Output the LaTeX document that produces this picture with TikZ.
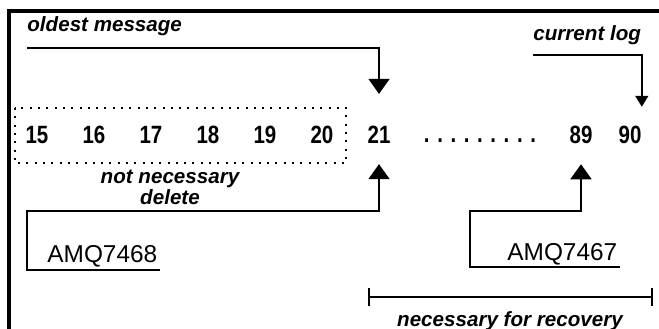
\documentclass[tikz,border=0pt]{standalone}
\usepackage{fontspec}
\setmainfont{Liberation Sans}
\newfontfamily\numfont[FakeStretch=0.82]{Liberation Sans}
\usetikzlibrary{arrows.meta,positioning}

\begin{document}
\begin{tikzpicture}[x=0.5pt, y=-0.5pt, node distance=28.5pt,
  num/.style={inner sep=0pt, font=\numfont\bfseries\fontsize{12.5}{14}\selectfont},
  note/.style={inner sep=0pt, font=\bfseries\itshape\fontsize{10.3}{10.5}\selectfont, align=center},
  code/.style={inner sep=0pt, anchor=base west, font=\fontsize{12.2}{14}\selectfont},
  wire/.style={line width=0.8pt},
  bigtip/.style={wire, -{Triangle[width=10.5pt, length=7.5pt]}},
  smalltip/.style={wire, -{Triangle[width=6.5pt, length=5.5pt]}}]
\useasboundingbox (0,0) rectangle (659,328);

% frame
\draw[line width=1.6pt] (9,340) -- (9,11) -- (670,11);

% log numbers
\node[num] (n15) at (37,135) {15};
\node[num, right of=n15] (n16) {16};
\node[num, right of=n16] (n17) {17};
\node[num, right of=n17] (n18) {18};
\node[num, right of=n18] (n19) {19};
\node[num, right of=n19] (n20) {20};
\node[num, right of=n20] (n21) {21};
\node[num, anchor=base] (gap) at (480,142) {. . . . . . . . .};
\node[num] (n89) at (581,135) {89};
\node[num] (n90) at (630,135) {90};

% old logs
\draw[line width=1pt, dash pattern=on 1pt off 3.15pt] (15,108) rectangle (346,163);

% labels
\node[note, anchor=base west] (oldest) at (27,31) {oldest message};
\node[note, anchor=base west] (curlog) at (533,40) {current log};
\node[note, anchor=north] (notnec) at (170,170) {not necessary\\delete};
\node[code] (amq68) at (47,262) {AMQ7468};
\node[code] (amq67) at (507,260) {AMQ7467};
\node[note, anchor=base] (recov) at (510,326) {necessary for recovery};

% pointers
\coordinate (oldstart) at (27,48);
\draw[bigtip] (oldstart) -| ([yshift=16pt]n21.north);
\coordinate (curstart) at (533,55);
\draw[smalltip] (curstart) -| ([yshift=9.5pt]n90.north east);
\coordinate (amq68end) at (160,270);
\draw[bigtip] (amq68end) -- (27,270) -- (27,211) -| ([yshift=-10pt]n21.south);
\coordinate (amq67end) at (620,267);
\draw[bigtip] (amq67end) -- (470,267) -- (470,211) -| ([yshift=-10pt]n89.south);

% recovery range
\coordinate (recfrom) at (368,297);
\coordinate (recto) at (653,297);
\draw[wire, {Bar[width=9pt]}-{Bar[width=9pt]}] (recfrom) -- (recto);
\end{tikzpicture}
\end{document}
